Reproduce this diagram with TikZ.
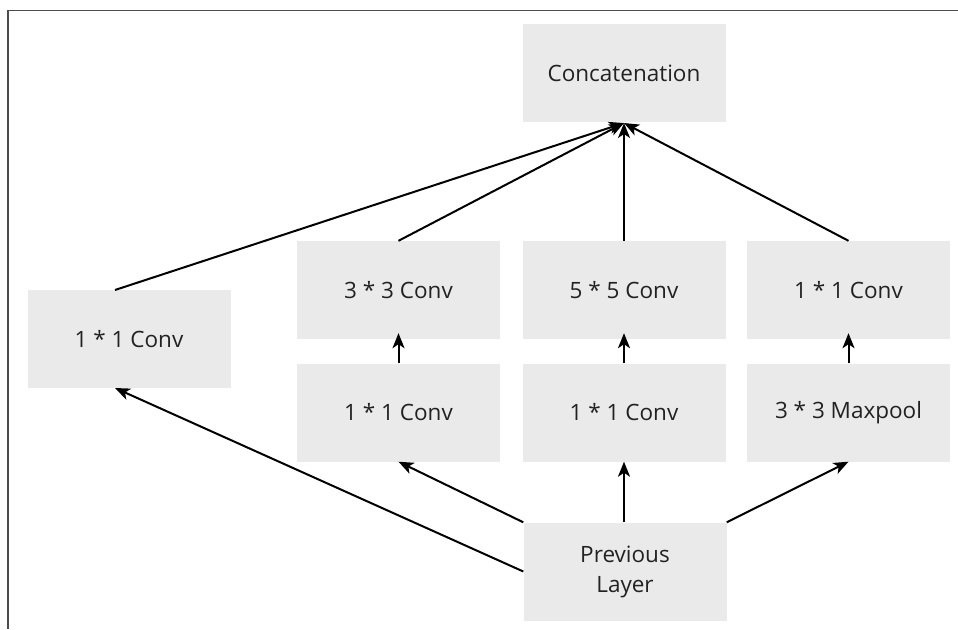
\documentclass[tikz,border=0pt]{standalone}
\usepackage{fontspec}
\setmainfont{Open Sans}
\usetikzlibrary{arrows.meta}
\definecolor{boxgray}{HTML}{EAEAEA}
\definecolor{txt}{HTML}{222222}
\begin{document}
\begin{tikzpicture}[x=1pt,y=-1pt,
  blk/.style={fill=boxgray,draw=none,minimum width=203pt,minimum height=98pt,inner sep=0pt,font=\fontsize{22.5}{30}\selectfont,text=txt,align=center},
  arr/.style={line width=2pt,-{Stealth[length=15pt,width=12pt,inset=4pt]}},
  frame/.style={draw=black!70,line width=1.5pt}]
\useasboundingbox (0,0) rectangle (958,629);
\draw[frame] (8,629) -- (8,10.5) -- (958,10.5);
\node[blk] (cat) at (624,73) {Concatenation};
\node[blk] (c1l) at (129,339) {1 * 1 Conv};
\node[blk] (c33) at (398.5,290) {3 * 3 Conv};
\node[blk] (c55) at (624,290) {5 * 5 Conv};
\node[blk] (c1r) at (848.5,290) {1 * 1 Conv};
\node[blk] (c1a) at (398.5,412.5) {1 * 1 Conv};
\node[blk] (c1b) at (624,412.5) {1 * 1 Conv};
\node[blk] (mp) at (848.5,412.5) {3 * 3 Maxpool};
\node[blk] (prev) at (625,571.5) {Previous\\Layer};
\coordinate (cin) at (624,123);
\draw[arr] (115,290) -- (cin);
\draw[arr] (c33.north) -- (cin);
\draw[arr] (c55.north) -- (cin);
\draw[arr] (c1r.north) -- (cin);
\draw[arr,shorten >=-6pt] (c1a.north) -- (c33.south);
\draw[arr,shorten >=-6pt] (c1b.north) -- (c55.south);
\draw[arr,shorten >=-6pt] (mp.north) -- (c1r.south);
\draw[arr] (prev.north west) -- (c1a.south);
\draw[arr] (prev.west) -- (115,388);
\draw[arr] (prev.north -| cin) -- (c1b.south);
\draw[arr] (prev.north east) -- (mp.south);
\end{tikzpicture}
\end{document}
